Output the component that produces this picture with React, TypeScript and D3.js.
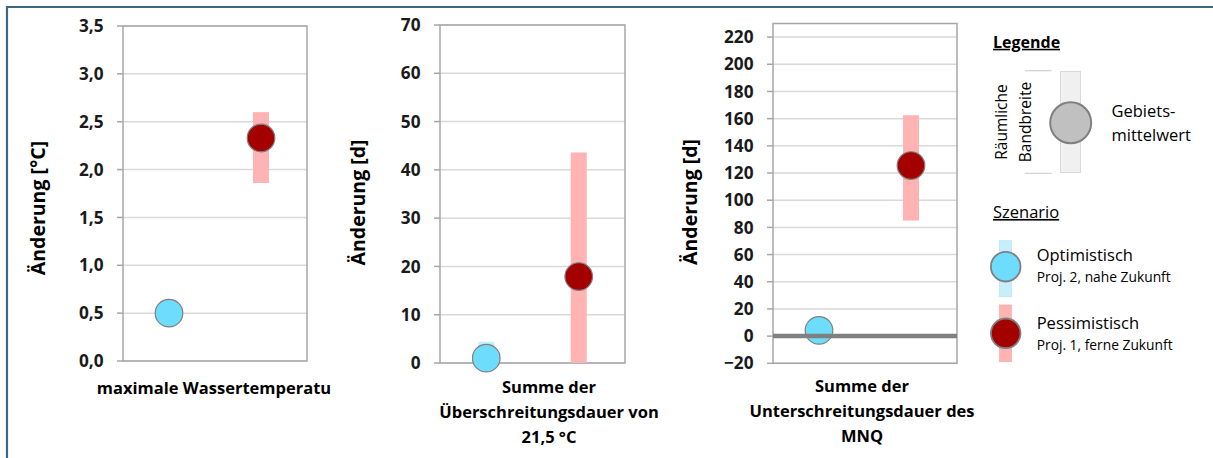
import React from "react";
import * as d3 from "d3";

const categories = ["Optimistisch", "Pessimistisch"];

const p1Mean = [0.5, 2.33];
const p1Low = [0.47, 1.86];
const p1High = [0.53, 2.6];
const p1Ticks = [0, 0.5, 1, 1.5, 2, 2.5, 3, 3.5];

const p2Mean = [1.0, 17.9];
const p2Low = [0, 0];
const p2High = [4.4, 43.6];
const p2Ticks = [0, 10, 20, 30, 40, 50, 60, 70];

const p3Mean = [4.2, 125.5];
const p3Low = [-2, 85];
const p3High = [10, 162.5];
const p3Ticks = [-20, 0, 20, 40, 60, 80, 100, 120, 140, 160, 180, 200, 220];

const FONT = "'Open Sans', sans-serif";
const CIRCLE_FILL = ["#6ddcfd", "#a50000"];
const BAND_FILL = ["#c6eefb", "#ffb3b3"];

type PanelProps = {
  left: number;
  right: number;
  top: number;
  bottom: number;
  domain: [number, number];
  ticks: number[];
  fmt: (v: number) => string;
  mean: number[];
  low: number[];
  high: number[];
  yLabel: string;
  yLabelX: number;
  yLabelY: number;
  xLabel: string[];
  xLabelY: number;
  xLabelCx?: number;
  zeroLine?: boolean;
};

function Panel(p: PanelProps) {
  const y = d3.scaleLinear().domain(p.domain).range([p.bottom, p.top]);
  const x = d3.scaleBand().domain(categories).range([p.left, p.right]).padding(0);
  const bw = 16;
  const cx = p.xLabelCx ?? (p.left + p.right) / 2;
  return (
    <g>
      {p.ticks.map((t) => (
        <g key={t}>
          <line x1={p.left} x2={p.right} y1={y(t)} y2={y(t)} stroke="#d9d9d9" strokeWidth={1.5} />
          <line x1={p.left - 6} x2={p.left} y1={y(t)} y2={y(t)} stroke="#a6a6a6" strokeWidth={1.5} />
          <text
            x={p.left - 19.5}
            y={y(t)}
            dy="0.36em"
            textAnchor="end"
            fontFamily={FONT}
            fontWeight={700}
            fontSize={17.2}
            fill="#1a1a1a"
          >
            {p.fmt(t)}
          </text>
        </g>
      ))}
      <rect
        x={p.left}
        y={p.top}
        width={p.right - p.left}
        height={p.bottom - p.top}
        fill="none"
        stroke="#a6a6a6"
        strokeWidth={1.5}
      />
      {categories.map((c, i) => {
        const xc = (x(c) as number) + x.bandwidth() / 2;
        return (
          <rect
            key={"b" + c}
            x={xc - bw / 2}
            y={y(p.high[i])}
            width={bw}
            height={y(p.low[i]) - y(p.high[i])}
            fill={BAND_FILL[i]}
          />
        );
      })}
      {categories.map((c, i) => {
        const xc = (x(c) as number) + x.bandwidth() / 2;
        return (
          <circle
            key={"c" + c}
            cx={xc}
            cy={y(p.mean[i])}
            r={13.8}
            fill={CIRCLE_FILL[i]}
            stroke="#7f7f7f"
            strokeWidth={1.2}
          />
        );
      })}
      {p.zeroLine && (
        <line x1={p.left} x2={p.right} y1={y(0)} y2={y(0)} stroke="#808080" strokeWidth={4.5} />
      )}
      <text
        transform={`translate(${p.yLabelX},${p.yLabelY}) rotate(-90)`}
        textAnchor="middle"
        dy="0.36em"
        fontFamily={FONT}
        fontWeight={700}
        fontSize={19.5}
        fill="#000"
      >
        {p.yLabel}
      </text>
      {p.xLabel.map((l, i) => (
        <text
          key={l}
          x={cx}
          y={p.xLabelY + i * 25}
          dy="0.36em"
          textAnchor="middle"
          fontFamily={FONT}
          fontWeight={700}
          fontSize={16.5}
          fill="#000"
        >
          {l}
        </text>
      ))}
    </g>
  );
}

const fmt1 = (v: number) => d3.format(".1f")(v).replace(".", ",");
const fmt0 = (v: number) => d3.format("d")(v);

export default function App() {
  const W = 1213;
  const H = 458;
  return (
    <svg
      width={W}
      height={H}
      style={{ position: "absolute", left: 0, top: 0, background: "#fff" }}
    >
      <rect x={0} y={0} width={W} height={H} fill="#fff" />
      <line x1={6} x2={W} y1={7} y2={7} stroke="#3c6882" strokeWidth={2.2} />
      <line x1={7} x2={7} y1={6} y2={H} stroke="#3c6882" strokeWidth={2.2} />

      <Panel
        left={123}
        right={307}
        top={26}
        bottom={361}
        domain={[0, 3.5]}
        ticks={p1Ticks}
        fmt={fmt1}
        mean={p1Mean}
        low={p1Low}
        high={p1High}
        yLabel="Änderung [°C]"
        yLabelX={38}
        yLabelY={208}
        xLabel={["maximale Wassertemperatu"]}
        xLabelY={388}
        xLabelCx={214}
      />
      <Panel
        left={440}
        right={625}
        top={25}
        bottom={363}
        domain={[0, 70]}
        ticks={p2Ticks}
        fmt={fmt0}
        mean={p2Mean}
        low={p2Low}
        high={p2High}
        yLabel="Änderung [d]"
        yLabelX={358}
        yLabelY={202.5}
        xLabel={["Summe der", "Überschreitungsdauer von", "21,5 °C"]}
        xLabelY={387}
        xLabelCx={549}
      />
      <Panel
        left={773}
        right={957}
        top={23.5}
        bottom={363.3}
        domain={[-20, 230]}
        ticks={p3Ticks}
        fmt={fmt0}
        mean={p3Mean}
        low={p3Low}
        high={p3High}
        yLabel="Änderung [d]"
        yLabelX={690}
        yLabelY={202}
        xLabel={["Summe der", "Unterschreitungsdauer des", "MNQ"]}
        xLabelY={386}
        xLabelCx={862}
        zeroLine
      />

      {/* Legend */}
      <g fontFamily={FONT} fill="#000">
        <text x={993} y={42} dy="0.36em" fontWeight={700} fontSize={16} textDecoration="underline">
          Legende
        </text>
        <rect x={1060.5} y={71.5} width={20} height={101} fill="#f0f0f0" stroke="#d9d9d9" strokeWidth={1} />
        <circle cx={1070.7} cy={122.7} r={20.5} fill="#c0c0c0" stroke="#7f7f7f" strokeWidth={2} />
        <line x1={1025} x2={1051.5} y1={70.7} y2={70.7} stroke="#d0d0d0" strokeWidth={1.2} />
        <line x1={1025} x2={1051.5} y1={173.3} y2={173.3} stroke="#d0d0d0" strokeWidth={1.2} />
        <text
          transform="translate(1001.5,122) rotate(-90)"
          textAnchor="middle"
          dy="0.36em"
          fontSize={15.5}
        >
          Räumliche
        </text>
        <text
          transform="translate(1025,122) rotate(-90)"
          textAnchor="middle"
          dy="0.36em"
          fontSize={15.5}
        >
          Bandbreite
        </text>
        <text x={1111.5} y={111.5} dy="0.36em" fontSize={16.5}>
          Gebiets-
        </text>
        <text x={1111.5} y={135} dy="0.36em" fontSize={16.5}>
          mittelwert
        </text>

        <text x={993} y={212} dy="0.36em" fontSize={16.5} textDecoration="underline">
          Szenario
        </text>

        <rect x={999.5} y={240.7} width={12} height={56} fill={BAND_FILL[0]} stroke="#b8e6f5" strokeWidth={0.8} />
        <circle cx={1005.7} cy={266.7} r={14.8} fill={CIRCLE_FILL[0]} stroke="#7f7f7f" strokeWidth={1.8} />
        <text x={1036.7} y={255} dy="0.36em" fontSize={16.5}>
          Optimistisch
        </text>
        <text x={1036.7} y={277.5} dy="0.36em" fontSize={13.8}>
          Proj. 2, nahe Zukunft
        </text>

        <rect x={999.5} y={305} width={12} height={56.7} fill={BAND_FILL[1]} stroke="#f5b0b0" strokeWidth={0.8} />
        <circle cx={1005.7} cy={333.3} r={14.8} fill={CIRCLE_FILL[1]} stroke="#7f7f7f" strokeWidth={1.8} />
        <text x={1036.7} y={322.7} dy="0.36em" fontSize={16.5}>
          Pessimistisch
        </text>
        <text x={1036.7} y={345} dy="0.36em" fontSize={13.8}>
          Proj. 1, ferne Zukunft
        </text>
      </g>
    </svg>
  );
}
